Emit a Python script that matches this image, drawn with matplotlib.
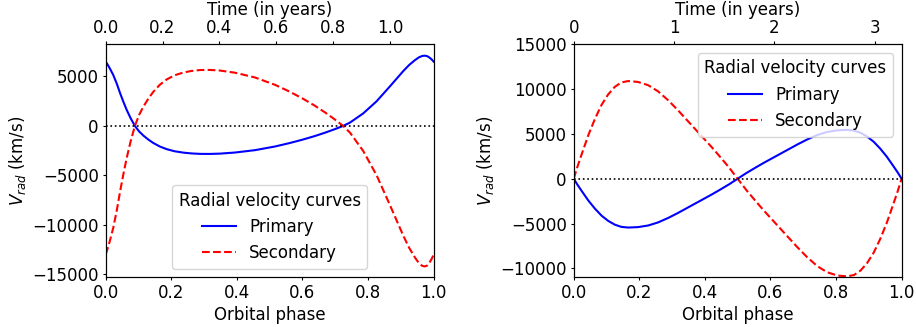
import matplotlib.pyplot as plt

# --- left system (eccentric orbit) ---
phase_a = [0.000, 0.006, 0.012, 0.023, 0.034, 0.044, 0.054, 0.064, 0.076, 0.089,
           0.102, 0.115, 0.130, 0.145, 0.165, 0.186, 0.210, 0.237, 0.262, 0.288,
           0.318, 0.348, 0.394, 0.455, 0.516, 0.560, 0.600, 0.638, 0.670, 0.700,
           0.724, 0.745, 0.785, 0.826, 0.867, 0.907, 0.925, 0.943, 0.955, 0.965,
           0.973, 0.980, 0.987, 0.994, 1.000]
primary_a = [6500, 6190, 5850, 5150, 4250, 3300, 2430, 1620, 780, 0,
             -560, -980, -1380, -1720, -2080, -2350, -2560, -2700, -2780, -2825,
             -2830, -2800, -2690, -2450, -2080, -1740, -1390, -1020, -670, -310,
             0, 340, 1260, 2490, 4010, 5530, 6150, 6650, 6930, 7070,
             7100, 7060, 6920, 6720, 6500]
secondary_a = [-13000, -12380, -11700, -10300, -8500, -6600, -4860, -3240, -1560, 0,
               1120, 1960, 2760, 3440, 4160, 4700, 5120, 5400, 5560, 5650,
               5660, 5600, 5380, 4900, 4160, 3480, 2780, 2040, 1340, 620,
               0, -680, -2520, -4980, -8020, -11060, -12300, -13300, -13860, -14140,
               -14200, -14120, -13840, -13440, -13000]
period_a = 1.154  # years

# --- right system ---
phase_b = [0.000, 0.012, 0.025, 0.045, 0.065, 0.085, 0.105, 0.125, 0.145, 0.166,
           0.196, 0.227, 0.257, 0.288, 0.318, 0.349, 0.385, 0.420, 0.446, 0.474,
           0.500, 0.526, 0.554, 0.580, 0.615, 0.651, 0.682, 0.712, 0.743, 0.773,
           0.804, 0.834, 0.855, 0.875, 0.895, 0.915, 0.935, 0.955, 0.975, 0.988, 1.000]
primary_b = [0, -700, -1400, -2450, -3350, -4120, -4700, -5120, -5370, -5450,
             -5400, -5220, -4880, -4380, -3820, -3200, -2480, -1780, -1230, -620,
             0, 620, 1230, 1780, 2480, 3200, 3820, 4380, 4880, 5220,
             5400, 5450, 5370, 5120, 4700, 4120, 3350, 2450, 1400, 700, 0]
secondary_b = [0, 1400, 2800, 4900, 6700, 8240, 9400, 10240, 10740, 10900,
               10800, 10440, 9760, 8760, 7640, 6400, 4960, 3560, 2460, 1240,
               0, -1240, -2460, -3560, -4960, -6400, -7640, -8760, -9760, -10440,
               -10800, -10900, -10740, -10240, -9400, -8240, -6700, -4900, -2800, -1400, 0]
period_b = 3.27  # years

# original looks like it was drawn at 72 dpi, so ticks/pads are a bit tighter
plt.rcParams.update({
    'font.size': 12,
    'xtick.major.size': 2.5, 'ytick.major.size': 2.5,
    'xtick.major.pad': 2.5, 'ytick.major.pad': 2.5,
    'axes.labelpad': 2.9,
})

fig = plt.figure(figsize=(9.16, 3.27), dpi=100)
ax1 = fig.add_axes([0.1154, 0.152, 0.358, 0.7125])
ax2 = fig.add_axes([0.6263, 0.152, 0.358, 0.7125])


def draw(ax, phase, prim, sec, period, ylim, yticks, top_ticks, loc):
    ax.plot(phase, prim, color='blue', lw=1.5, label='Primary')
    ax.plot(phase, sec, color='red', ls='--', lw=1.5, label='Secondary')
    ax.axhline(0, color='black', ls=':', lw=1.2)
    ax.set_xlim(0, 1)
    ax.set_ylim(*ylim)
    ax.set_yticks(yticks)
    ax.set_xlabel('Orbital phase')
    ax.set_ylabel('$V_{rad}$ (km/s)')
    ax.legend(title='Radial velocity curves', loc=loc, fontsize=12, title_fontsize=12)
    top = ax.twiny()
    top.set_xlim(0, period)
    top.set_xticks(top_ticks)
    top.set_xlabel('Time (in years)')


draw(ax1, phase_a, primary_a, secondary_a, period_a, (-15300, 8250),
     [-15000, -10000, -5000, 0, 5000], [0.0, 0.2, 0.4, 0.6, 0.8, 1.0], 'lower center')
draw(ax2, phase_b, primary_b, secondary_b, period_b, (-11000, 15000),
     [-10000, -5000, 0, 5000, 10000, 15000], [0, 1, 2, 3], 'upper right')

fig.savefig('out.png', dpi=100)
